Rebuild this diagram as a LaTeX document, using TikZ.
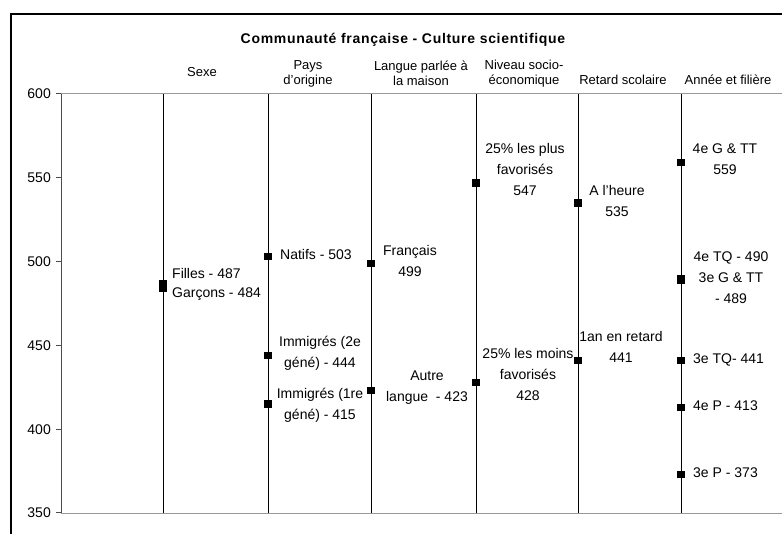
\documentclass[tikz,border=0pt]{standalone}
\usepackage{fontspec}
\setmainfont{Liberation Sans}
\usetikzlibrary{positioning}
\tikzset{
  mk/.style={rectangle,fill=black,inner sep=0pt,minimum size=7.5pt},
  lab/.style={font=\fontsize{14}{21}\selectfont,align=center,inner sep=0pt},
  labl/.style={font=\fontsize{14}{21}\selectfont,anchor=west,inner sep=0pt},
  hdr/.style={font=\fontsize{13}{15}\selectfont,align=center,inner sep=0pt},
  tick/.style={font=\fontsize{14}{16}\selectfont,anchor=east,inner sep=0pt},
}

\begin{document}
\begin{tikzpicture}[x=1pt,y=-1pt,declare function={vy(\v)=94+(600-\v)*1.676;}]
\useasboundingbox (0,0) rectangle (782,534);
\draw[black, line width=1.3pt] (11,534) -- (11,14) -- (790,14);

% grid and axis
\draw[gray!80, line width=1pt] (61,94) -- (790,94);
\draw[gray!80, line width=1pt] (61,513) -- (790,513);
\foreach \x in {163,268,371,476,578,681}
  \draw[black, line width=0.8pt] (\x,94) -- (\x,513);
\draw[black!70, line width=1pt] (61,94) -- (61,513);
\foreach \v in {600,550,...,350}
  {
    \draw[black!70, line width=1pt] (56,{vy(\v)}) -- (61,{vy(\v)});
    \node[tick] (t\v) at (51,{vy(\v)}) {\v};
  }

% titles
\node[font=\fontsize{14}{16}\bfseries\selectfont\addfontfeatures{LetterSpace=5}] (title) at (403,40) {Communauté française - Culture scientifique};
\node[hdr] (hSexe) at (202,72) {Sexe};
\node[hdr] (hPays) at (308,73.5) {Pays\\d’origine};
\node[hdr] (hLangue) at (421,73.5) {Langue parlée à\\la maison};
\node[hdr] (hNiveau) at (524,73.5) {Niveau socio-\\économique};
\node[hdr] (hRetard) at (623,80) {Retard scolaire};
\node[hdr] (hAnnee) at (728,80) {Année et filière};

% markers
\node[mk] (s1) at (163,{vy(487)}) {};
\node[mk] (s2) at (163,{vy(484)}) {};
\node[mk] (p1) at (268,{vy(503)}) {};
\node[mk] (p2) at (268,{vy(444)}) {};
\node[mk] (p3) at (268,{vy(415)}) {};
\node[mk] (l1) at (371,{vy(499)}) {};
\node[mk] (l2) at (371,{vy(423)}) {};
\node[mk] (n1) at (476,{vy(547)}) {};
\node[mk] (n2) at (476,{vy(428)}) {};
\node[mk] (r1) at (578,{vy(535)}) {};
\node[mk] (r2) at (578,{vy(441)}) {};
\node[mk] (a1) at (681,{vy(559)}) {};
\node[mk] (a2) at (681,{vy(490)}) {};
\node[mk] (a3) at (681,{vy(489)}) {};
\node[mk] (a4) at (681,{vy(441)}) {};
\node[mk] (a5) at (681,{vy(413)}) {};
\node[mk] (a6) at (681,{vy(373)}) {};

% data labels
\node[labl] (ls1) at (172,273) {Filles - 487};
\node[labl] (ls2) at (172,294) {Garçons - 484};
\node[labl] (lp1) at (280,254) {Natifs - 503};
\node[lab] (lp2) at (320,353.5) {Immigrés (2e\\géné) - 444};
\node[lab] (lp3) at (320,405) {Immigrés (1re\\géné) - 415};
\node[lab] (ll1) at (410,260.5) {Français\\499};
\node[lab] (ll2) at (427,388) {Autre\\langue\ \ - 423};
\node[lab] (ln1) at (525,169) {25\% les plus\\favorisés\\547};
\node[lab] (ln2) at (528,374.5) {25\% les moins\\favorisés\\428};
\node[lab] (lr1) at (617,200.5) {A l'heure\\535};
\node[lab] (lr2) at (621,347) {1an en retard\\441};
\node[lab] (la1) at (725,159) {4e G \& TT\\559};
\node[lab] (la2) at (731,278) {4e TQ - 490\\3e G \& TT\\- 489};
\node[labl] (la4) at (693,360) {3e TQ- 441};
\node[labl] (la5) at (693,406) {4e P - 413};
\node[labl] (la6) at (693,473) {3e P - 373};
\end{tikzpicture}
\end{document}
